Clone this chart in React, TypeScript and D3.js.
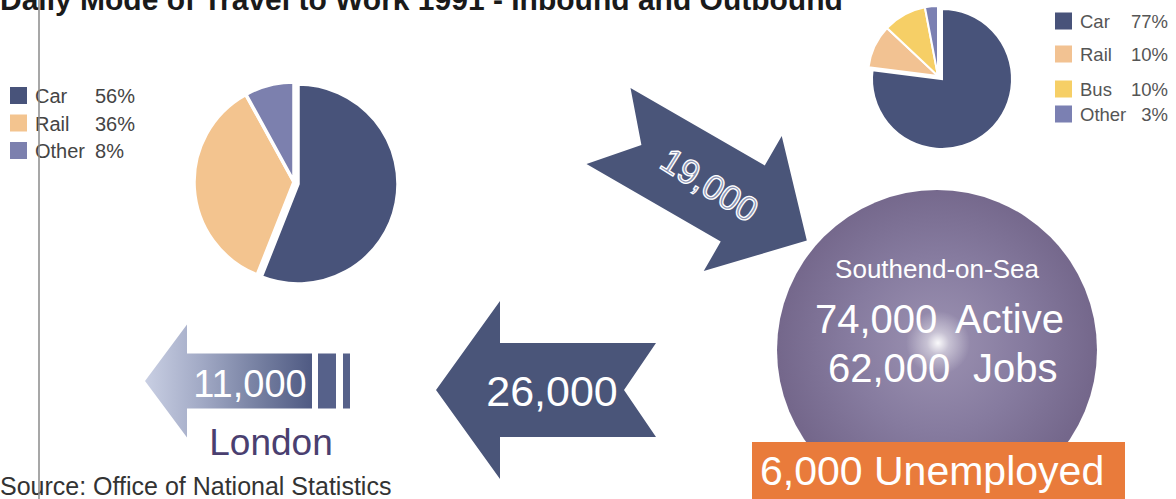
import React from "react";
import * as d3 from "d3";

// ---------- data ----------
const title = "Daily Mode of Travel to Work 1991 - Inbound and Outbound";
const source = "Source: Office of National Statistics";

const outModes = ["Car", "Rail", "Other"];
const outShares = [56, 36, 8];

const inModes = ["Car", "Rail", "Bus", "Other"];
const inShares = [77, 10, 10, 3];

const flowIn = 19000;
const flowOut = 26000;
const flowLondon = 11000;
const londonLabel = "London";

const townName = "Southend-on-Sea";
const active = 74000;
const jobs = 62000;
const unemployed = 6000;

// ---------- styles ----------
const FONT = "'Liberation Sans', Arial, Helvetica, sans-serif";
const NAVY = "#4a5579";
const outColors = ["#48537a", "#f3c48f", "#7c80ae"];
const inColors = ["#48537a", "#f2c292", "#f6cf66", "#7b80b2"];

const fmt = d3.format(",");

function notchedArrow(len: number, bodyHalf: number, headHalf: number, headLen: number, notch: number) {
  const p = d3.path();
  p.moveTo(0, -bodyHalf);
  p.lineTo(len - headLen, -bodyHalf);
  p.lineTo(len - headLen, -headHalf);
  p.lineTo(len, 0);
  p.lineTo(len - headLen, headHalf);
  p.lineTo(len - headLen, bodyHalf);
  p.lineTo(0, bodyHalf);
  p.lineTo(notch, 0);
  p.closePath();
  return p.toString();
}

function Pie({ shares, colors, cx, cy, r, explode, stroke }: any) {
  const arcs = d3.pie<number>().sort(null).value((d) => d)(shares);
  const arc = d3.arc<d3.PieArcDatum<number>>().innerRadius(0).outerRadius(r);
  return (
    <g transform={`translate(${cx},${cy})`}>
      {arcs.map((a, i) => {
        const [dx, dy] = explode(i, a);
        return (
          <path
            key={i}
            d={arc(a) || ""}
            fill={colors[i]}
            stroke="#fff"
            strokeWidth={stroke}
            strokeLinejoin="miter"
            transform={`translate(${dx},${dy})`}
          />
        );
      })}
    </g>
  );
}

export default function App() {
  const W = 1176;
  const H = 499;

  // left legend rows
  const lRowY = (i: number) => 87 + i * 27.5;
  // right legend rows
  const rRowCenters = [21, 54, 89, 114];

  return (
    <svg
      width={W}
      height={H}
      viewBox={`0 0 ${W} ${H}`}
      style={{ position: "absolute", left: 0, top: 0, background: "#fff" }}
      fontFamily={FONT}
    >
      <defs>
        {/* local coords of the London arrow: x=0 at the dark tail end, x=167 at the light tip */}
        <linearGradient id="londonGrad" gradientUnits="userSpaceOnUse" x1={167} y1={0} x2={0} y2={0}>
          <stop offset="0" stopColor="#c9cfe3" />
          <stop offset="0.35" stopColor="#a0a8c4" />
          <stop offset="0.7" stopColor="#737d9f" />
          <stop offset="1" stopColor="#4f5a83" />
        </linearGradient>
        <radialGradient id="sphere" cx="0.5" cy="0.48" r="0.5">
          <stop offset="0" stopColor="#9c92b2" />
          <stop offset="0.55" stopColor="#867b9f" />
          <stop offset="1" stopColor="#74678b" />
        </radialGradient>
        <radialGradient id="glow" cx="0.5" cy="0.5" r="0.5">
          <stop offset="0" stopColor="#ffffff" stopOpacity="0.95" />
          <stop offset="0.35" stopColor="#ffffff" stopOpacity="0.45" />
          <stop offset="1" stopColor="#ffffff" stopOpacity="0" />
        </radialGradient>
      </defs>

      {/* title */}
      <text x={0} y={10} fontSize={30} fontWeight="bold" fill="#1a1a1a">
        {title}
      </text>

      {/* outbound pie (left) */}
      <Pie
        shares={outShares}
        colors={outColors}
        cx={295}
        cy={183}
        r={100}
        stroke={3.5}
        explode={(i: number) => (i === 0 ? [3, 1] : [-1, -1])}
      />

      {/* left legend */}
      {outModes.map((m, i) => (
        <g key={m}>
          <rect x={10} y={lRowY(i)} width={17} height={17} fill={outColors[i]} />
          <text x={35} y={lRowY(i) + 16} fontSize={20} fill="#444">
            {m}
          </text>
          <text x={95} y={lRowY(i) + 16} fontSize={20} fill="#444">
            {outShares[i]}%
          </text>
        </g>
      ))}

      {/* inbound pie (right) */}
      <Pie
        shares={inShares}
        colors={inColors}
        cx={942}
        cy={79}
        r={70}
        stroke={2}
        explode={(i: number) => (i === 0 ? [0, 0] : [-4, -3])}
      />

      {/* right legend */}
      {inModes.map((m, i) => (
        <g key={m}>
          <rect x={1055} y={rRowCenters[i] - 8.5} width={17} height={17} fill={inColors[i]} />
          <text x={1080} y={rRowCenters[i] + 7} fontSize={18.5} fill="#555">
            {m}
          </text>
          <text x={1168} y={rRowCenters[i] + 7} fontSize={18.5} fill="#555" textAnchor="end">
            {inShares[i]}%
          </text>
        </g>
      ))}

      {/* Southend sphere */}
      <circle cx={937} cy={350} r={160} fill="url(#sphere)" />
      <circle cx={938} cy={343} r={32} fill="url(#glow)" />
      <text x={937} y={278} fontSize={26} fill="#fff" textAnchor="middle">
        {townName}
      </text>
      <text x={815} y={333} fontSize={40} fill="#fff">
        {fmt(active)}
      </text>
      <text x={955} y={333} fontSize={40} fill="#fff">
        Active
      </text>
      <text x={828} y={382} fontSize={40} fill="#fff">
        {fmt(jobs)}
      </text>
      <text x={973} y={382} fontSize={40} fill="#fff">
        Jobs
      </text>

      {/* unemployed box */}
      <rect x={752} y={442} width={373} height={60} fill="#e97b3b" />
      <text x={760} y={485} fontSize={41} fill="#fff">
        {fmt(unemployed)} Unemployed
      </text>

      {/* inbound arrow 19,000 */}
      <g transform="translate(608.5,126) rotate(30)">
        <path d={notchedArrow(229, 44, 78, 74, 38)} fill={NAVY} />
        <text
          x={117}
          y={0}
          fontSize={35}
          fill="#8a93b2"
          stroke="#fff"
          strokeWidth={1.3}
          textAnchor="middle"
          dominantBaseline="central"
          transform="rotate(2,117,0)"
        >
          {fmt(flowIn)}
        </text>
      </g>

      {/* outbound arrow 26,000 */}
      <g transform="translate(656,390) rotate(180)">
        <path d={notchedArrow(220, 47, 89, 64, 32)} fill={NAVY} />
      </g>
      <text x={552} y={406} fontSize={43} fill="#fff" textAnchor="middle">
        {fmt(flowOut)}
      </text>

      {/* London arrow 11,000 */}
      <g transform="translate(312,381) rotate(180)">
        <path d={notchedArrow(167, 27.5, 56.5, 42, 0)} fill="url(#londonGrad)" />
      </g>
      <rect x={318} y={353.5} width={18} height={55} fill="#56618a" />
      <rect x={343} y={353.5} width={7} height={55} fill="#56618a" />
      <text x={250} y={397} fontSize={38} fill="#fff" textAnchor="middle">
        {fmt(flowLondon)}
      </text>
      <text x={271} y={455} fontSize={37} fill="#4a3f70" textAnchor="middle">
        {londonLabel}
      </text>

      {/* source */}
      <text x={0} y={495} fontSize={25} fill="#333">
        {source}
      </text>

      {/* vertical rule */}
      <line x1={39} y1={0} x2={39} y2={H} stroke="#8a8a8a" strokeWidth={1.5} />
    </svg>
  );
}
